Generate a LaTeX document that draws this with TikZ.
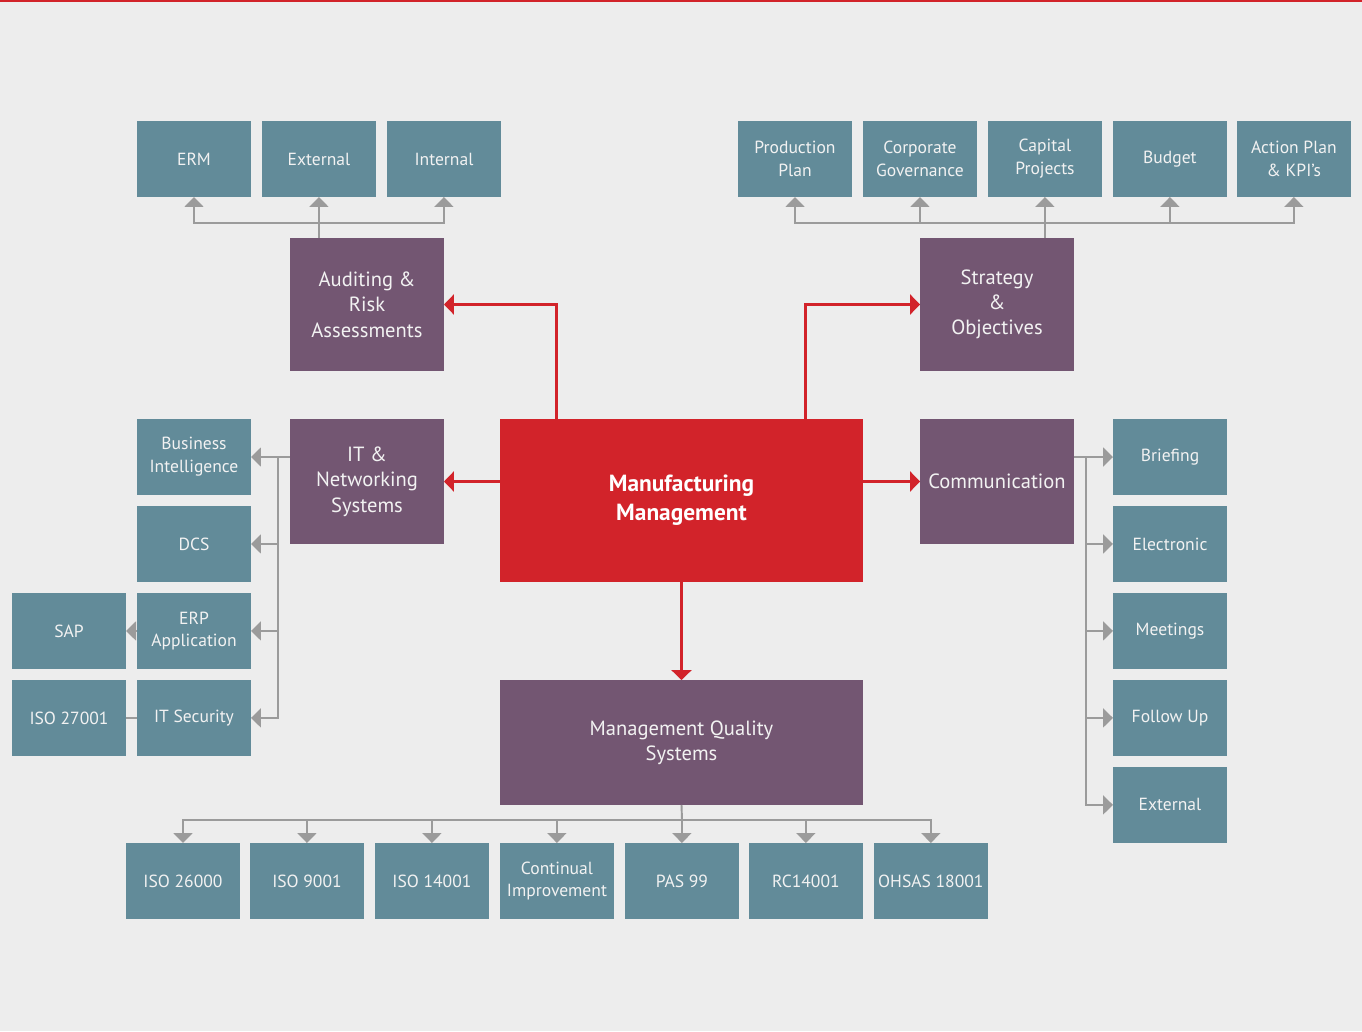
\documentclass[tikz,border=0pt]{standalone}
\usepackage{fontspec}
\setmainfont{PT Sans}
\usetikzlibrary{arrows.meta, positioning, calc}
\definecolor{pagegrey}{RGB}{237,237,237}
\definecolor{tealbox}{RGB}{98,139,153}
\definecolor{plumbox}{RGB}{115,86,114}
\definecolor{mfgred}{RGB}{210,35,42}
\definecolor{linkgrey}{RGB}{155,155,155}
\definecolor{boxtext}{RGB}{242,242,242}

\begin{document}
\begin{tikzpicture}[
  x=0.02cm, y=-0.02cm,
  node distance=0.22cm,
  leaf/.style={rectangle, fill=tealbox, minimum width=2.28cm, minimum height=1.52cm,
               inner sep=1pt, outer sep=0pt, text=boxtext, align=center,
               font=\fontsize{10}{13}\selectfont},
  hub/.style={rectangle, fill=plumbox, minimum width=3.08cm, inner sep=1pt, outer sep=0pt,
              text=boxtext, align=center, font=\fontsize{11.7}{14.4}\selectfont},
  core/.style={rectangle, fill=mfgred, minimum width=7.26cm, minimum height=3.26cm, outer sep=0pt,
               text=white, align=center, font=\fontsize{13.3}{16.6}\selectfont\bfseries},
  gline/.style={draw=linkgrey, line width=1.1pt},
  garrow/.style={gline, -{Triangle[width=0.38cm, length=0.2cm]}},
  rarrow/.style={draw=mfgred, line width=1.7pt, -{Triangle[width=0.4cm, length=0.2cm]}}
]
  % page
  \fill[pagegrey] (0,0) rectangle (1362,1031);
  \fill[mfgred] (0,0) rectangle (1362,2);

  % centre and first level
  \node[core] (mfg) at (681.5,500.5) {Manufacturing\\Management};
  \node[hub, minimum height=2.66cm] (audit) at (367,304.5) {Auditing \&\\Risk\\Assessments};
  \node[hub, minimum height=2.5cm] (itnet) at (367,481.5) {IT \&\\Networking\\Systems};
  \node[hub, minimum height=2.66cm] (strat) at (997,304.5) {Strategy\\\&\\Objectives};
  \node[hub, minimum height=2.5cm] (comm) at (997,481.5) {Communication};
  \node[hub, minimum width=7.26cm, minimum height=2.5cm] (mqs) at (681.5,742.5) {Management Quality\\Systems};

  % audit row
  \node[leaf] (erm) at (194,159) {ERM};
  \node[leaf, right=of erm] (extaud) {External};
  \node[leaf, right=of extaud] (intaud) {Internal};

  % strategy row
  \node[leaf] (prod) at (795,159) {Production\\Plan};
  \node[leaf, right=of prod] (corp) {Corporate\\Governance};
  \node[leaf, right=of corp] (capex) {Capital\\Projects};
  \node[leaf, right=of capex] (budget) {Budget};
  \node[leaf, right=0.2cm of budget] (kpi) {Action Plan\\\& KPI’s};

  % IT column
  \node[leaf] (bi) at (194,457) {Business\\Intelligence};
  \node[leaf, below=of bi] (dcs) {DCS};
  \node[leaf, below=of dcs] (erp) {ERP\\Application};
  \node[leaf, below=of erp] (itsec) {IT Security};
  \node[leaf, left=of erp] (sap) {SAP};
  \node[leaf, left=of itsec] (iso27) {ISO 27001};

  % communication column
  \node[leaf] (brief) at (1170,457) {Briefing};
  \node[leaf, below=of brief] (elec) {Electronic};
  \node[leaf, below=of elec] (meet) {Meetings};
  \node[leaf, below=of meet] (follow) {Follow Up};
  \node[leaf, below=of follow] (extcom) {External};

  % quality row
  \node[leaf] (iso26) at (183,881) {ISO 26000};
  \node[leaf, right=0.2cm of iso26] (iso9) {ISO 9001};
  \node[leaf, right=0.22cm of iso9] (iso14) {ISO 14001};
  \node[leaf, right=0.22cm of iso14] (cont) {Continual\\Improvement};
  \node[leaf, right=0.22cm of cont] (pas) {PAS 99};
  \node[leaf, right=0.2cm of pas] (rc) {RC14001};
  \node[leaf, right=0.22cm of rc] (ohsas) {OHSAS 18001};

  % red links
  \draw[rarrow] (mfg.north -| cont.north) |- (audit.east);
  \draw[rarrow] (mfg.north -| rc.north) |- (strat.west);
  \draw[rarrow] (mfg.west |- itnet.east) -- (itnet.east);
  \draw[rarrow] (mfg.east |- comm.west) -- (comm.west);
  \draw[rarrow] (mfg.south) -- (mqs.north);

  % grey links
  \coordinate (busaud) at (0,223);
  \draw[garrow] (audit.north -| extaud.south) -- (extaud.south);
  \draw[garrow] (busaud -| extaud.south) -| (erm.south);
  \draw[garrow] (busaud -| extaud.south) -| (intaud.south);

  \draw[garrow] (strat.north -| capex.south) -- (capex.south);
  \draw[garrow] (busaud -| capex.south) -| (prod.south);
  \draw[garrow] (busaud -| capex.south) -| (corp.south);
  \draw[garrow] (busaud -| capex.south) -| (budget.south);
  \draw[garrow] (busaud -| capex.south) -| (kpi.south);

  \coordinate (busit) at (278,457);
  \draw[garrow] (itnet.west |- bi.east) -- (bi.east);
  \draw[garrow] (busit) |- (dcs.east);
  \draw[garrow] (busit) |- (erp.east);
  \draw[garrow] (busit) |- (itsec.east);
  \draw[garrow] (erp.west) -- (sap.east);
  \draw[gline] (itsec.west) -- (iso27.east);

  \coordinate (buscom) at (1086,457);
  \draw[garrow] (comm.east |- brief.west) -- (brief.west);
  \draw[garrow] (buscom) |- (elec.west);
  \draw[garrow] (buscom) |- (meet.west);
  \draw[garrow] (buscom) |- (follow.west);
  \draw[garrow] (buscom) |- (extcom.west);

  \coordinate (busqual) at (682,820);
  \draw[gline] (mqs.south) -- (busqual);
  \foreach \leafname in {iso26, iso9, iso14, cont, pas, rc, ohsas}
    \draw[garrow] (busqual) -| (\leafname.north);
\end{tikzpicture}
\end{document}
